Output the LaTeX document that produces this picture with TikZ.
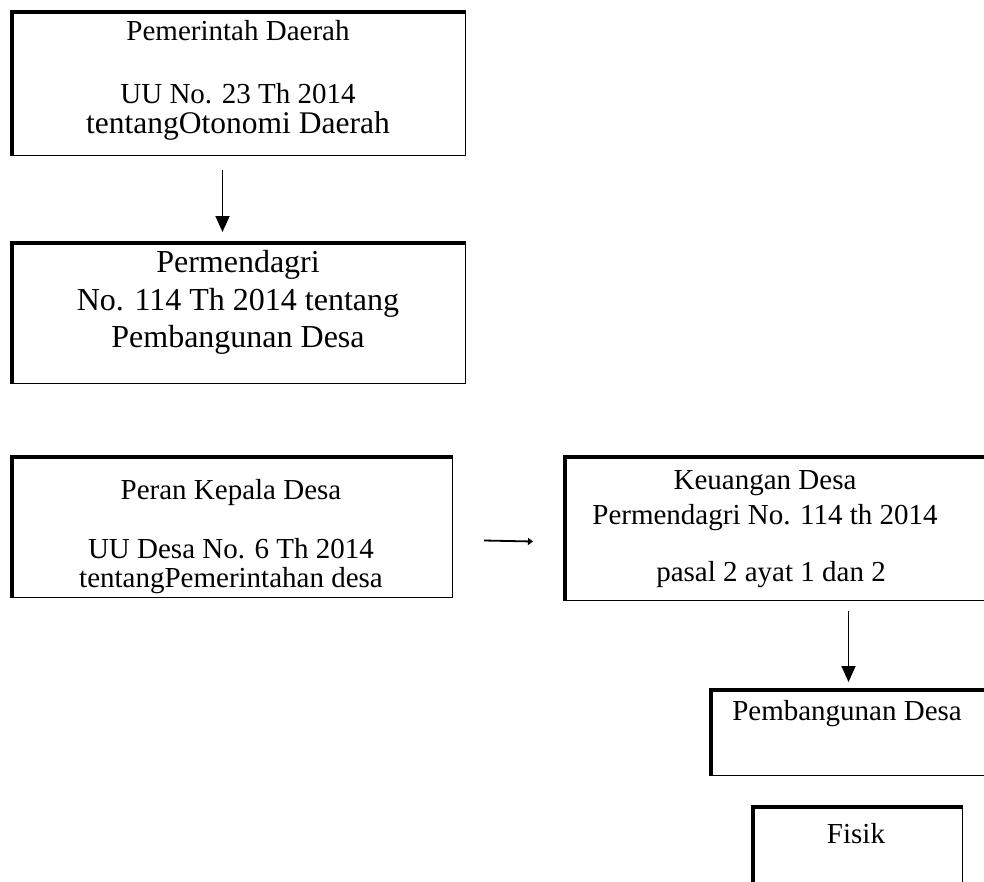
\documentclass[tikz,border=0pt]{standalone}
\usepackage{fontspec}
\setmainfont{Liberation Serif}
\usepackage{tikz}
\usetikzlibrary{arrows.meta}
\tikzstyle{BoxFrame}=[draw=black,line width=1pt,anchor=north west,inner sep=0pt,
path picture={\draw[line width=7pt](path picture bounding box.south west)--(path picture bounding box.north west)--(path picture bounding box.north east);}]
\tikzstyle{Label}=[anchor=base,inner sep=0pt,font=\fontsize{29}{33}\selectfont]
\tikzstyle{BigLabel}=[Label,font=\fontsize{32}{36}\selectfont]
\tikzstyle{Arrow}=[line width=1.8pt,-{Triangle[length=16pt,width=14pt]}]
\tikzstyle{SmallArrow}=[line width=1.8pt,-{Triangle[length=5pt,width=7pt]}]

\begin{document}
\begin{tikzpicture}[x=1pt,y=-1pt]
        \useasboundingbox(0,0)rectangle(984,881);
        \clip(0,0)rectangle(984,881);
        \node[BoxFrame,minimum width=455pt,minimum height=145pt](pemda)at(10,10){};
        \node[BoxFrame,minimum width=455pt,minimum height=142pt](permen)at(10,241){};
        \node[BoxFrame,minimum width=442pt,minimum height=142pt](peran)at(10,455){};
        \node[BoxFrame,minimum width=450pt,minimum height=145pt](keuangan)at(563,455){};
        \node[BoxFrame,minimum width=320pt,minimum height=87pt](pembangunan)at(709,688){};
        \node[BoxFrame,minimum width=211pt,minimum height=120pt](fisik)at(751,805){};
        \node[Label](pemdaA)at(238,40){Pemerintah Daerah};
        \node[Label](pemdaB)at(238,103){UU No. 23 Th 2014};
        \node[Label,font=\fontsize{31.5}{35}\selectfont](pemdaC)at(238,133){tentangOtonomi Daerah};
        \node[BigLabel](permenA)at(238,272){Permendagri};
        \node[BigLabel](permenB)at(238,310){No. 114 Th 2014 tentang};
        \node[BigLabel](permenC)at(238,347){Pembangunan Desa};
        \node[Label](peranA)at(231,499){Peran Kepala Desa};
        \node[Label](peranB)at(231,558){UU Desa No. 6 Th 2014};
        \node[Label](peranC)at(231,587){tentangPemerintahan desa};
        \node[Label](keuanganA)at(765,489){Keuangan Desa};
        \node[Label](keuanganB)at(765,524){Permendagri No. 114 th 2014};
        \node[Label](keuanganC)at(771,581){pasal 2 ayat 1 dan 2};
        \node[Label](pembangunanA)at(847,720){Pembangunan Desa};
        \node[Label](fisikA)at(856,843){Fisik};
        \draw[Arrow]([xshift=-15.5pt,yshift=-14pt]pemda.south)--([xshift=-15.5pt,yshift=9pt]permen.north);
        \draw[SmallArrow]([xshift=31pt,yshift=-14pt]peran.east)--([xshift=-30pt,yshift=-13.5pt]keuangan.west);
        \draw[Arrow]([xshift=-21pt,yshift=-10pt]keuangan.south-|pembangunan.north)--([xshift=-21pt,yshift=6pt]pembangunan.north);
    \end{tikzpicture}
\end{document}
